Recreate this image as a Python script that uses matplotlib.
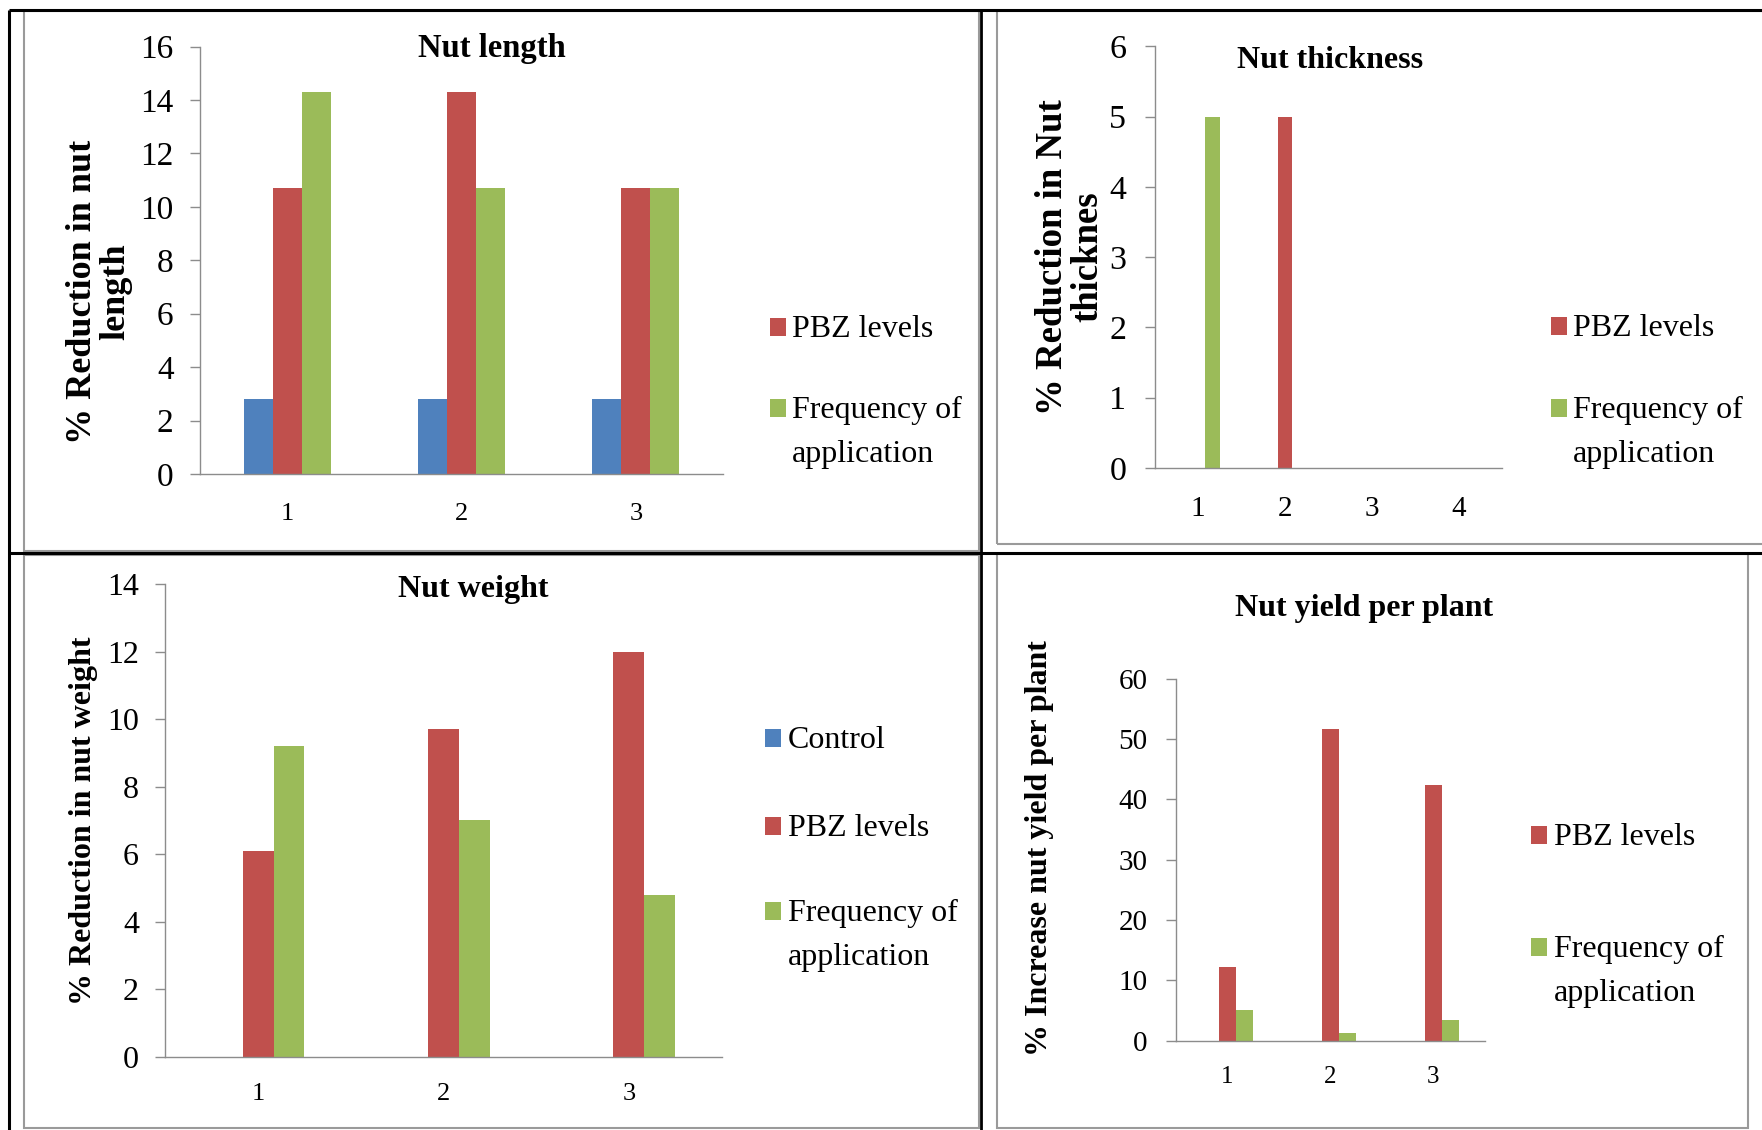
import numpy as np
import matplotlib
matplotlib.use('Agg')
import matplotlib.pyplot as plt
from matplotlib.lines import Line2D
from matplotlib.patches import Rectangle

plt.rcParams['font.family'] = ['Liberation Serif', 'DejaVu Serif']

W, H = 1762, 1130

series_names = ['Control', 'PBZ levels', 'Frequency of\napplication']
colors = ['#4F81BD', '#C0504D', '#9BBB59']
axis_gray = '#8C8C8C'

# Nut length
length_cats = ['1', '2', '3']
length_control = [2.8, 2.8, 2.8]
length_pbz = [10.7, 14.3, 10.7]
length_freq = [14.3, 10.7, 10.7]

# Nut thickness
thick_cats = ['1', '2', '3', '4']
thick_control = [0, 0, 0, 0]
thick_pbz = [0, 5, 0, 0]
thick_freq = [5, 0, 0, 0]

# Nut weight
weight_cats = ['1', '2', '3']
weight_control = [0, 0, 0]
weight_pbz = [6.1, 9.7, 12.0]
weight_freq = [9.2, 7.0, 4.8]

# Nut yield per plant
yield_cats = ['1', '2', '3']
yield_control = [0, 0, 0]
yield_pbz = [12.2, 51.7, 42.4]
yield_freq = [5.0, 1.2, 3.4]


fig = plt.figure(figsize=(W / 100, H / 100), dpi=100)


def fx(x):
    return x / W


def fy(y):
    return 1 - y / H


def px_axes(x0, x1, ytop, ybot):
    ax = fig.add_axes([fx(x0), fy(ybot), (x1 - x0) / W, (ybot - ytop) / H])
    ax.set_facecolor('none')
    return ax


def draw_bars(ax, cats, series, ymax, ystep, yfs, xfs, ypad, xpad):
    x = np.arange(len(cats))
    w = 1 / 6
    for i, vals in enumerate(series):
        ax.bar(x + (i - 1) * w, vals, w, color=colors[i], linewidth=0)
    ax.set_xlim(-0.5, len(cats) - 0.5)
    ax.set_ylim(0, ymax)
    ax.set_yticks(np.arange(0, ymax + ystep / 2, ystep))
    ax.set_xticks(x)
    ax.set_xticklabels(cats)
    for s in ['top', 'right']:
        ax.spines[s].set_visible(False)
    for s in ['left', 'bottom']:
        ax.spines[s].set_color(axis_gray)
        ax.spines[s].set_linewidth(1.0)
    ax.tick_params(axis='y', direction='out', length=7.5, width=1.0,
                   color=axis_gray, labelsize=yfs, pad=ypad)
    ax.tick_params(axis='x', length=0, labelsize=xfs, pad=xpad)


def legend_at(mx, tx, baselines, idx, gap=44):
    for b, i in zip(baselines, idx):
        fig.add_artist(Rectangle((fx(mx), fy(b - 1)), 16 / W, 18 / H,
                                 transform=fig.transFigure,
                                 facecolor=colors[i], edgecolor='none'))
        lines = series_names[i].split('\n')
        for k, t in enumerate(lines):
            fig.text(fx(tx), fy(b + k * gap), t, fontsize=23,
                     ha='left', va='baseline')


def frame_line(x0, y0, x1, y1, color, lw):
    fig.add_artist(Line2D([fx(x0), fx(x1)], [fy(y0), fy(y1)],
                          transform=fig.transFigure, color=color, lw=lw,
                          solid_capstyle='butt'))


# panel frames
for (x0, y0, x1, y1) in [(24, 11, 979, 551), (24, 555, 979, 1128),
                         (997, 11, 1770, 544), (997, 554, 1748, 1128)]:
    fig.add_artist(Rectangle((fx(x0), fy(y1)), (x1 - x0) / W, (y1 - y0) / H,
                             transform=fig.transFigure, facecolor='none',
                             edgecolor='#9A9A9A', lw=1.5))
frame_line(8.5, 9.5, 8.5, 1130, 'black', 2.2)
frame_line(8.5, 9.5, 1762, 9.5, 'black', 2.2)
frame_line(981, 9.5, 981, 1130, 'black', 2.0)
frame_line(8.5, 553, 1762, 553, 'black', 2.2)

# Nut length
ax1 = px_axes(200, 723, 46.5, 474)
draw_bars(ax1, length_cats, [length_control, length_pbz, length_freq],
          16, 2, 24, 19, 11.5, 21)
fig.text(fx(492), fy(56.7), 'Nut length', fontsize=23.5, fontweight='bold',
         ha='center', va='baseline')
fig.text(fx(99), fy(292), '% Reduction in nut\nlength', fontsize=26,
         fontweight='bold', rotation=90, ha='center', va='center',
         multialignment='center', linespacing=1.0)
legend_at(770, 792, [337, 418], [1, 2])

# Nut thickness
ax2 = px_axes(1154.6, 1502, 46.4, 468)
draw_bars(ax2, thick_cats, [thick_control, thick_pbz, thick_freq],
          6, 1, 24.5, 21, 13, 20.5)
fig.text(fx(1330), fy(68), 'Nut thickness', fontsize=23, fontweight='bold',
         ha='center', va='baseline')
fig.text(fx(1070), fy(257), '% Reduction in Nut\nthicknes', fontsize=26.5,
         fontweight='bold', rotation=90, ha='center', va='center',
         multialignment='center', linespacing=1.0)
legend_at(1551, 1573, [336, 418], [1, 2])

# Nut weight
ax3 = px_axes(165.4, 721.6, 584, 1056.8)
draw_bars(ax3, weight_cats, [weight_control, weight_pbz, weight_freq],
          14, 2, 23, 19, 11.5, 19)
fig.text(fx(473), fy(597), 'Nut weight', fontsize=23, fontweight='bold',
         ha='center', va='baseline')
fig.text(fx(84), fy(821), '% Reduction in nut weight', fontsize=23,
         fontweight='bold', rotation=90, ha='center', va='center')
legend_at(765, 788, [748, 836, 921], [0, 1, 2])

# Nut yield per plant
ax4 = px_axes(1176, 1485, 678.7, 1040.6)
draw_bars(ax4, yield_cats, [yield_control, yield_pbz, yield_freq],
          60, 10, 21, 18, 13, 18.5)
fig.text(fx(1364), fy(616), 'Nut yield per plant', fontsize=23,
         fontweight='bold', ha='center', va='baseline')
fig.text(fx(1039), fy(848), '% Increase nut yield per plant', fontsize=23,
         fontweight='bold', rotation=90, ha='center', va='center')
legend_at(1531, 1554, [845, 957], [1, 2])

fig.savefig('out.png', dpi=100)
